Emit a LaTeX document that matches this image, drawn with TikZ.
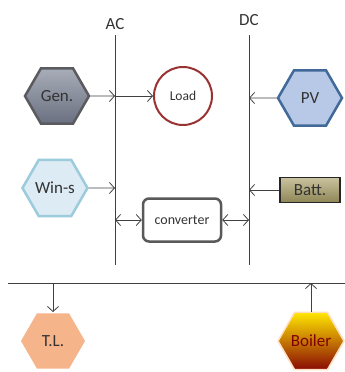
\documentclass[tikz,border=0pt]{standalone}
\usepackage{fontspec}
\setmainfont{Carlito}
\usetikzlibrary{shapes.geometric,arrows.meta}

\definecolor{genTop}{HTML}{A9ADB9}
\definecolor{genBot}{HTML}{6A7080}
\definecolor{genLine}{HTML}{5B5B5F}
\definecolor{loadLine}{HTML}{993333}
\definecolor{pvFill}{HTML}{B7C9E6}
\definecolor{pvLine}{HTML}{41699A}
\definecolor{winFill}{HTML}{DCEBF4}
\definecolor{winLine}{HTML}{9CCBDB}
\definecolor{battTop}{HTML}{C9C29E}
\definecolor{battBot}{HTML}{8E8656}
\definecolor{tlFill}{HTML}{F5B489}
\definecolor{boilTop}{HTML}{FFE600}
\definecolor{boilMid}{HTML}{F5400A}
\definecolor{boilBot}{HTML}{8A0A05}

\begin{document}
\begin{tikzpicture}[x=1pt, y=-1pt, font=\fontsize{17}{20}\selectfont, text=black!80,
    hexa/.style={regular polygon, regular polygon sides=6, minimum size=64pt, inner sep=0pt, line width=2.5pt},
    link/.style={draw=black!75, line width=0.8pt},
    tip/.style={-{Straight Barb[length=5pt,width=11pt]}},
    twotip/.style={{Straight Barb[length=5pt,width=11pt]}-{Straight Barb[length=5pt,width=11pt]}}]
    % Define coordinates
    \def\ac{115}
    \def\dc{249}
    \def\bus{283}
    \useasboundingbox (0,0) rectangle (345,372);

    % Bus ends
    \coordinate (ACtop) at (\ac,35);
    \coordinate (ACbot) at (\ac,265);
    \coordinate (DCtop) at (\dc,35);
    \coordinate (DCbot) at (\dc,265);
    \coordinate (Bleft) at (8,\bus);
    \coordinate (Bright) at (345,\bus);

    % Draw buses
    \draw[link] (ACtop) -- (ACbot);
    \draw[link] (DCtop) -- (DCbot);
    \draw[link] (Bleft) -- (Bright);
    \node[above=2pt] (aclabel) at (ACtop) {AC};
    \node[above=6pt] (dclabel) at (DCtop) {DC};

    % Sources and loads
    \node[hexa, top color=genTop, bottom color=genBot, draw=genLine] (gen) at (57,96) {Gen.};
    \node[circle, minimum size=58pt, draw=loadLine, line width=2pt, fill=white, font=\fontsize{13.5}{16}\selectfont] (load) at (183,96) {Load};
    \node[hexa, fill=pvFill, draw=pvLine] (pv) at (310,98) {PV};
    \node[hexa, fill=winFill, draw=winLine] (win) at (55,188) {Win-s};
    \node[rectangle, minimum width=60pt, minimum height=25pt, inner sep=0pt, top color=battTop, bottom color=battBot, draw=black!85, line width=1.8pt] (batt) at (310,190) {Batt.};
    \node[rectangle, rounded corners=6pt, minimum width=78pt, minimum height=43pt, draw=black!65, line width=2.5pt, fill=white, font=\fontsize{14}{16}\selectfont] (conv) at (182,220) {converter};
    \node[hexa, fill=tlFill, minimum size=64pt] (tl) at (53,341) {T.L.};
    \node[hexa, minimum size=60pt, line width=1.5pt, draw=orange!25, top color=boilTop, middle color=boilMid, bottom color=boilBot, text=red!50!black] (boiler) at (311,341) {Boiler};

    % Points on the buses
    \coordinate (AC1) at (\ac,96);
    \coordinate (AC2) at (\ac,188);
    \coordinate (AC3) at (\ac,220);
    \coordinate (DC1) at (\dc,98);
    \coordinate (DC2) at (\dc,190);
    \coordinate (DC3) at (\dc,220);
    \coordinate (B1) at (53,\bus);
    \coordinate (B2) at (311,\bus);

    % Draw connections
    \draw[link, tip] (gen) -- (AC1);
    \draw[link, tip] (AC1) -- (load);
    \draw[link, tip] (pv) -- (DC1);
    \draw[link, tip] (win) -- (AC2);
    \draw[link, tip] (batt) -- (DC2);
    \draw[link, twotip] (AC3) -- (conv);
    \draw[link, twotip] (conv) -- (DC3);
    \draw[link, tip] (B1) -- (tl);
    \draw[link, tip] (boiler) -- (B2);
\end{tikzpicture}
\end{document}
